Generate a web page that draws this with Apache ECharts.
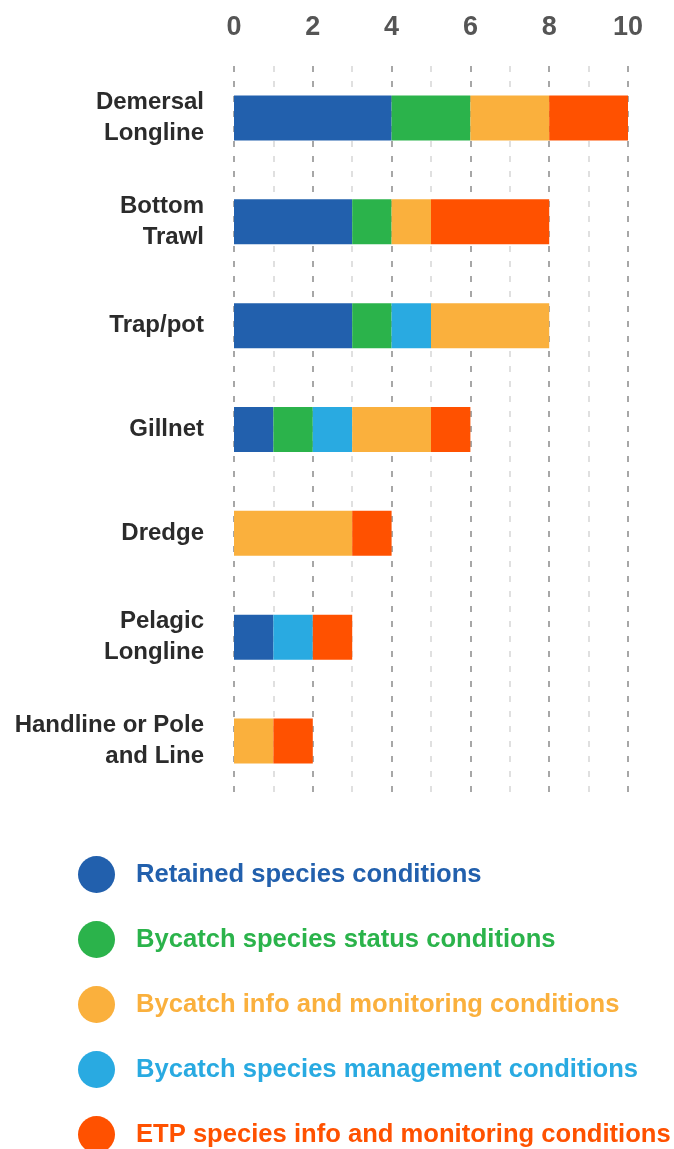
<!DOCTYPE html>
<html>
<head>
<meta charset="utf-8">
<script src="https://cdn.jsdelivr.net/npm/echarts@6/dist/echarts.min.js"></script>
<style>
  html, body { margin: 0; padding: 0; background: #fff; }
  #chart { width: 674px; height: 1149px; }
</style>
</head>
<body>
<div id="chart"></div>
<script>
// Fishing gear types (top to bottom)
const gears = ['Demersal\nLongline', 'Bottom\nTrawl', 'Trap/pot', 'Gillnet', 'Dredge', 'Pelagic\nLongline', 'Handline or Pole\nand Line'];

// Number of conditions per gear, by condition type
const retainedSpecies   = [4, 3, 3, 1, 0, 1, 0];
const bycatchStatus     = [2, 1, 1, 1, 0, 0, 0];
const bycatchManagement = [0, 0, 1, 1, 0, 1, 0];
const bycatchInfo       = [2, 1, 3, 2, 3, 0, 1];
const etpInfo           = [2, 3, 0, 1, 1, 1, 1];

// Axis ticks
const axisMin = 0, axisMax = 10, axisStep = 2;

const FONT = '"Liberation Sans", Arial, sans-serif';

const seriesDefs = [
  { name: 'Retained species conditions', data: retainedSpecies, color: '#2260ad' },
  { name: 'Bycatch species status conditions', data: bycatchStatus, color: '#2bb34b' },
  { name: 'Bycatch species management conditions', data: bycatchManagement, color: '#29aae1' },
  { name: 'Bycatch info and monitoring conditions', data: bycatchInfo, color: '#fab03d' },
  { name: 'ETP species info and monitoring conditions', data: etpInfo, color: '#ff5100' }
];

// Legend order
const legendOrder = [
  'Retained species conditions',
  'Bycatch species status conditions',
  'Bycatch info and monitoring conditions',
  'Bycatch species management conditions',
  'ETP species info and monitoring conditions'
];
const colorOf = Object.fromEntries(seriesDefs.map(s => [s.name, s.color]));

const chart = echarts.init(document.getElementById('chart'), null, { renderer: 'canvas' });

chart.setOption({
  animation: false,
  textStyle: { fontFamily: FONT },
  grid: { left: 234, right: 46, top: 66, height: 727, containLabel: false },
  xAxis: {
    type: 'value',
    position: 'top',
    min: axisMin,
    max: axisMax,
    interval: axisStep,
    axisLine: { show: false },
    axisTick: { show: false },
    axisLabel: {
      margin: 25,
      fontSize: 27,
      fontWeight: 'bold',
      color: '#555555',
      fontFamily: FONT
    },
    splitLine: {
      show: true,
      lineStyle: { color: '#8a8a8a', width: 1.5, type: [6, 9] }
    },
    minorTick: { show: false, splitNumber: 2 },
    minorSplitLine: {
      show: true,
      lineStyle: { color: '#d6d6d6', width: 1.5, type: [6, 9] }
    }
  },
  yAxis: {
    type: 'category',
    data: gears,
    inverse: true,
    axisLine: { show: false },
    axisTick: { show: false },
    axisLabel: {
      margin: 30,
      fontSize: 24,
      fontWeight: 'bold',
      color: '#2b2b2b',
      lineHeight: 31,
      align: 'right',
      fontFamily: FONT
    }
  },
  legend: {
    orient: 'vertical',
    left: 73,
    top: 851,
    height: 320,
    itemWidth: 37,
    itemHeight: 37,
    itemGap: 28,
    icon: 'circle',
    selectedMode: false,
    textStyle: {
      fontSize: 25.6,
      fontWeight: 'bold',
      fontFamily: FONT,
      padding: [0, 0, 0, 16]
    },
    data: legendOrder.map(n => ({ name: n, textStyle: { color: colorOf[n] } }))
  },
  series: seriesDefs.map(s => ({
    name: s.name,
    type: 'bar',
    stack: 'total',
    barWidth: 45,
    data: s.data,
    itemStyle: { color: s.color },
    emphasis: { disabled: true }
  }))
});
</script>
</body>
</html>
